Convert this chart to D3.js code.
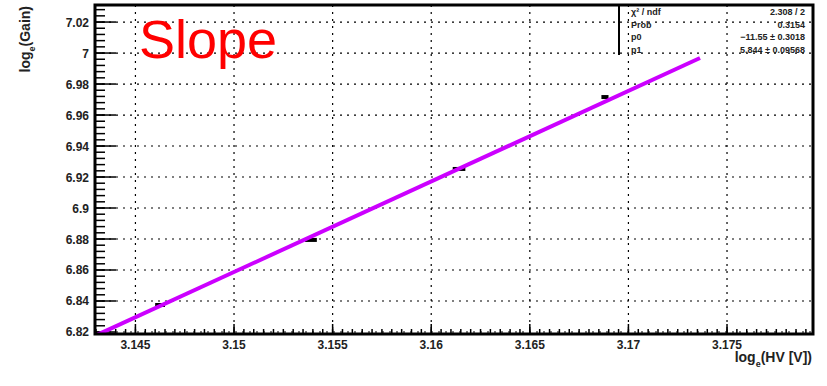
<!DOCTYPE html>
<html><head><meta charset="utf-8">
<script src="https://cdn.jsdelivr.net/npm/d3@7"></script>
<style>body{margin:0;background:#fff;} svg{display:block;}</style>
</head><body>
<svg id="c" width="827" height="386"></svg>
<script>
// ---- data ----
const hvLog   = [3.14625, 3.1539, 3.16141, 3.16881];
const gainLog = [6.8374, 6.8794, 6.9252, 6.9716];
const hvErr   = [0.00025, 0.0003, 0.00032, 0.00018];
const fitParams = [-11.5499, 5.844];          // p0, p1
const fitRange  = [3.1430, 3.17363];
const xTicks = [3.145, 3.15, 3.155, 3.16, 3.165, 3.17, 3.175];
const yTicks = [6.82, 6.84, 6.86, 6.88, 6.9, 6.92, 6.94, 6.96, 6.98, 7, 7.02];
const statLabels = ["\u03c7\u00b2 / ndf", "Prob", "p0", "p1"];
const statValues = ["2.308 / 2", "0.3154", "\u221211.55 \u00b1 0.3018", "5.844 \u00b1 0.09568"];
const titleText = "Slope";

const svg = d3.select("#c");
const L = 95, R = 813, T = 5, B = 334;
const x = d3.scaleLinear().domain([3.14295, 3.17936]).range([L, R]);
const y = d3.scaleLinear().domain([6.8187, 7.0310]).range([B, T]);
const font = "'Liberation Sans', Arial, Helvetica, sans-serif";

svg.append("rect").attr("width", 827).attr("height", 386).attr("fill", "#fff");
svg.append("defs").append("clipPath").attr("id", "fr")
  .append("rect").attr("x", L).attr("y", T).attr("width", R - L).attr("height", B - T);

// grid
const g = svg.append("g");
g.selectAll(".gx").data(xTicks).join("line")
  .attr("x1", d => x(d)).attr("x2", d => x(d)).attr("y1", T).attr("y2", B)
  .attr("stroke", "#000").attr("stroke-width", 1.2).attr("stroke-dasharray", "2,5");
g.selectAll(".gy").data(yTicks).join("line")
  .attr("x1", L).attr("x2", R).attr("y1", d => y(d)).attr("y2", d => y(d))
  .attr("stroke", "#000").attr("stroke-width", 1.2).attr("stroke-dasharray", "2,5");

// ticks
const xMinor = d3.range(0, 80).map(i => 3.1430 + i * 0.0005).filter(v => v <= 3.1793);
svg.append("g").selectAll("line").data(xMinor).join("line")
  .attr("x1", d => x(d)).attr("x2", d => x(d)).attr("y1", B).attr("y2", B - 5)
  .attr("stroke", "#000").attr("stroke-width", 1.5);
svg.append("g").selectAll("line").data(xTicks).join("line")
  .attr("x1", d => x(d)).attr("x2", d => x(d)).attr("y1", B).attr("y2", B - 10)
  .attr("stroke", "#000").attr("stroke-width", 1.5);
const yMinor = d3.range(0, 60).map(i => 6.82 + i * 0.004).filter(v => v <= 7.031);
svg.append("g").selectAll("line").data(yMinor).join("line")
  .attr("x1", L).attr("x2", L + 10).attr("y1", d => y(d)).attr("y2", d => y(d))
  .attr("stroke", "#000").attr("stroke-width", 1.5);
svg.append("g").selectAll("line").data(yTicks).join("line")
  .attr("x1", L).attr("x2", L + 21).attr("y1", d => y(d)).attr("y2", d => y(d))
  .attr("stroke", "#000").attr("stroke-width", 1.5);

// tick labels
svg.append("g").selectAll("text").data(xTicks).join("text")
  .attr("x", d => x(d)).attr("y", 349).attr("text-anchor", "middle")
  .attr("font-family", font).attr("font-size", 12).attr("font-weight", "bold").attr("fill", "#222")
  .text(d => d3.format(".3~f")(d));
svg.append("g").selectAll("text").data(yTicks).join("text")
  .attr("x", 89).attr("y", d => y(d) + 4.5).attr("text-anchor", "end")
  .attr("font-family", font).attr("font-size", 12).attr("font-weight", "bold").attr("fill", "#222")
  .text(d => d3.format(".2~f")(d));

// points
const pts = svg.append("g");
hvLog.forEach((v, i) => {
  pts.append("line").attr("x1", x(v - hvErr[i])).attr("x2", x(v + hvErr[i]))
    .attr("y1", y(gainLog[i])).attr("y2", y(gainLog[i]))
    .attr("stroke", "#000").attr("stroke-width", 4);
});

// fit line
const fx = fitRange;
svg.append("line").attr("clip-path", "url(#fr)")
  .attr("x1", x(fx[0])).attr("y1", y(fitParams[0] + fitParams[1] * fx[0]))
  .attr("x2", x(fx[1])).attr("y2", y(fitParams[0] + fitParams[1] * fx[1]))
  .attr("stroke", "#cc00ff").attr("stroke-width", 4);

// stats box
svg.append("line").attr("x1", 619).attr("x2", 619).attr("y1", T).attr("y2", 55)
  .attr("stroke", "#000").attr("stroke-width", 2);
statLabels.forEach((s, i) => {
  const yy = 15 + i * 12.5;
  svg.append("text").attr("x", 631).attr("y", yy).attr("font-family", font)
    .attr("font-size", 9).attr("font-weight", "bold").attr("fill", "#222").text(s);
  svg.append("text").attr("x", 805).attr("y", yy).attr("text-anchor", "end").attr("font-family", font)
    .attr("font-size", 9).attr("font-weight", "bold").attr("fill", "#222").text(statValues[i]);
});

// frame
svg.append("rect").attr("x", L).attr("y", T).attr("width", R - L).attr("height", B - T)
  .attr("fill", "none").attr("stroke", "#000").attr("stroke-width", 3);

// title
svg.append("text").attr("x", 139).attr("y", 58).attr("font-family", font)
  .attr("font-size", 54).attr("fill", "#ff0000").text(titleText);

// axis titles
const xt = svg.append("text").attr("x", 812).attr("y", 362).attr("text-anchor", "end")
  .attr("font-family", font).attr("font-size", 14).attr("font-weight", "bold").attr("fill", "#222");
xt.append("tspan").text("log");
xt.append("tspan").attr("dy", 5).attr("font-size", 9).text("e");
xt.append("tspan").attr("dy", -5).text("(HV [V])");

const yt = svg.append("text").attr("transform", "translate(30,6) rotate(-90)").attr("text-anchor", "end")
  .attr("font-family", font).attr("font-size", 14).attr("font-weight", "bold").attr("fill", "#222");
yt.append("tspan").text("log");
yt.append("tspan").attr("dy", 5).attr("font-size", 9).text("e");
yt.append("tspan").attr("dy", -5).text("(Gain)");
</script>
</body></html>
